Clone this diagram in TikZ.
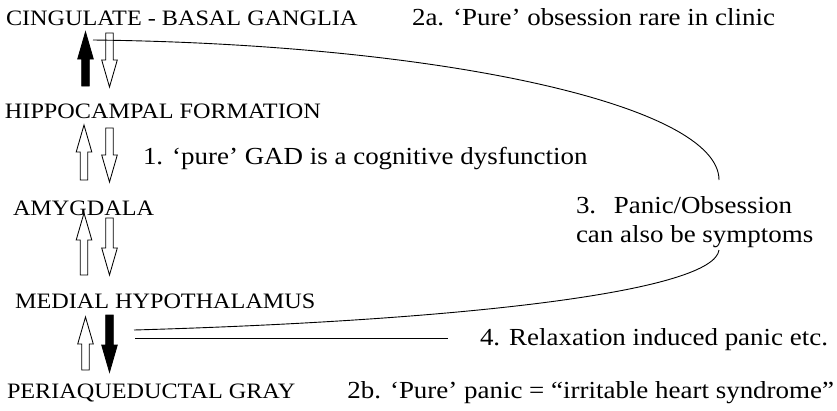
\documentclass[tikz,border=0pt]{standalone}
\usepackage{fontspec}
\setmainfont{Liberation Serif}[FakeStretch=1.1]
\begin{document}
\begin{tikzpicture}[x=1pt,y=-1pt,
  region/.style={inner sep=0pt,outer sep=0pt,font=\fontsize{22}{26}\selectfont},
  note/.style={inner sep=0pt,outer sep=0pt,font=\fontsize{24.5}{29}\selectfont},
  wire/.style={line width=0.9pt},
  hollowarr/.style={draw,fill=white,line width=0.85pt,line join=miter},
  solidarr/.style={draw,fill=black,line width=0.85pt,line join=miter}]
\useasboundingbox (0,0) rectangle (837,410);

% block arrow: #1 style, #2 x, #3 tail y, #4 tip y, #5 +1 for up, -1 for down
\newcommand\blockarrow[5]{%
  \path[#1] ({#2-3.8},{#3}) -- ({#2-3.8},{#4+#5*27}) -- ({#2-7.8},{#4+#5*27})
    -- ({#2},{#4}) -- ({#2+7.8},{#4+#5*27}) -- ({#2+3.8},{#4+#5*27})
    -- ({#2+3.8},{#3}) -- cycle;}

% brain regions
\node[region,anchor=base west] (cing)  at (6,25)   {CINGULATE - BASAL GANGLIA};
\node[region,anchor=base west] (hippo) at (5,118)  {HIPPOCAMPAL FORMATION};
\node[region,anchor=base west] (amyg)  at (13,215) {AMYGDALA};
\node[region,anchor=base west] (mhyp)  at (15,308) {MEDIAL HYPOTHALAMUS};
\node[region,anchor=base west] (pag)   at (7,398)  {PERIAQUEDUCTAL GRAY};

% annotations
\node[note,anchor=base east] (n2a) at (775,25)  {2a. ‘Pure’ obsession rare in clinic};
\node[note,anchor=base west] (n1)  at (143,164) {1. ‘pure’ GAD is a cognitive dysfunction};
\node[note,anchor=base west] (n3a) at (576,213) {3.\hspace{0.72em}Panic/Obsession};
\node[note,anchor=base west] (n3b) at (576,242) {can also be symptoms};
\node[note,anchor=base west] (n4)  at (480,345) {4. Relaxation induced panic etc.};
\node[note,anchor=base east] (n2b) at (834,398) {2b. ‘Pure’ panic = “irritable heart syndrome”};

% arrows between levels
\blockarrow{solidarr}{85.5}{86}{32}{1}
\blockarrow{hollowarr}{109.5}{33}{87}{-1}
\blockarrow{hollowarr}{84}{180}{125}{1}
\blockarrow{hollowarr}{109.5}{128}{182}{-1}
\blockarrow{hollowarr}{84}{275}{213}{1}
\blockarrow{hollowarr}{109.5}{218}{275}{-1}
\blockarrow{hollowarr}{85.5}{370}{317}{1}
\blockarrow{solidarr}{109.5}{315}{372}{-1}

% feedback loop around note 3
\coordinate (topstart) at (93,40);
\coordinate (topend)   at (719,180);
\coordinate (botstart) at (719,250);
\coordinate (botend)   at (134,330);
\coordinate (relaxA)   at (135,338);
\coordinate (relaxB)   at (448,338);
\draw[wire] (topstart) .. controls (440,44) and (719,105) .. (topend);
\draw[wire] (botstart) .. controls (714,290) and (480,320) .. (botend);
\draw[wire] (relaxA) -- (relaxB);
\end{tikzpicture}
\end{document}
